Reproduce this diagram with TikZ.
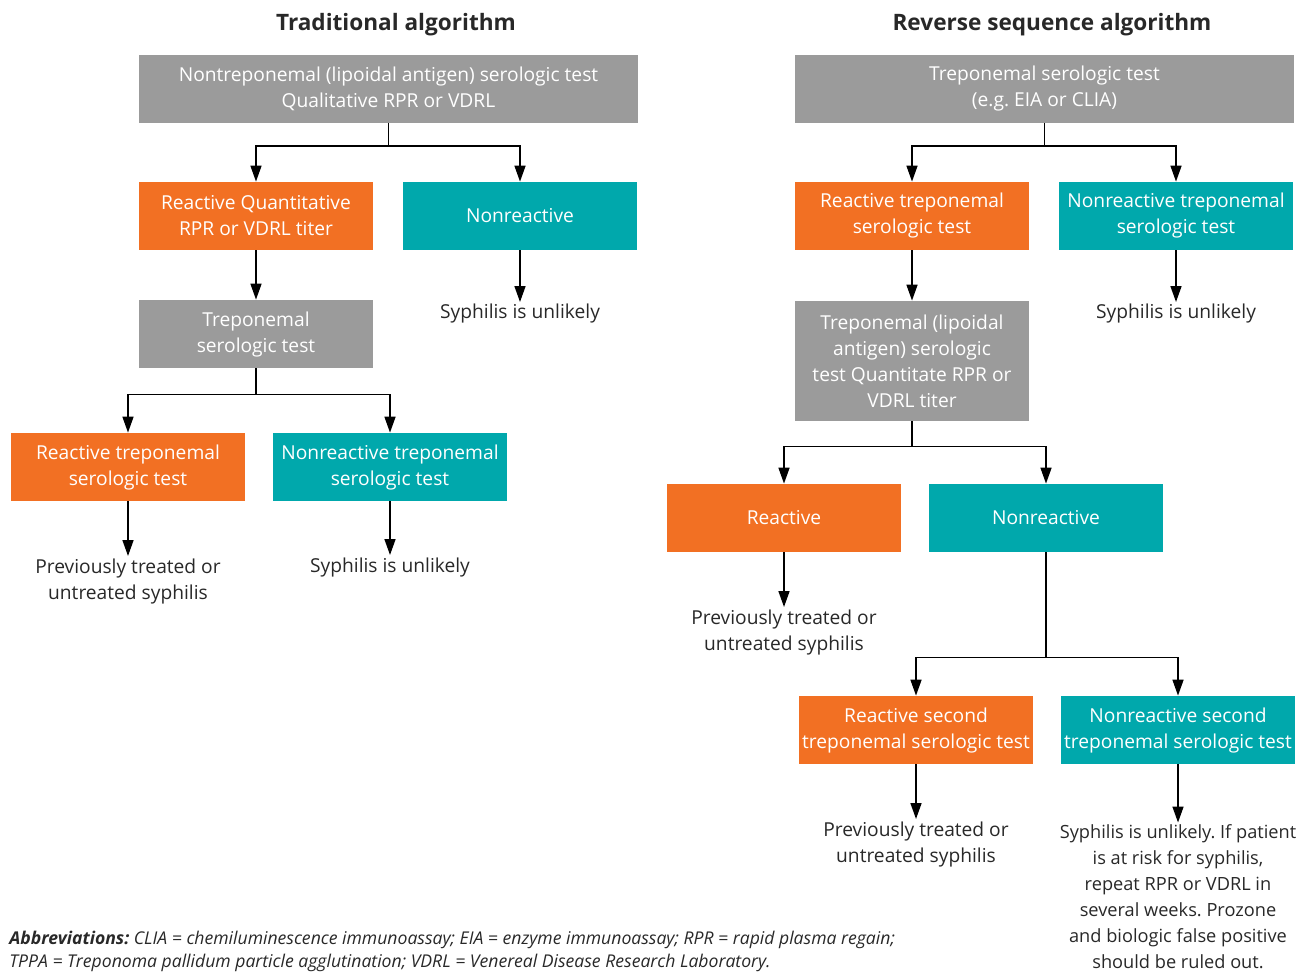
\documentclass[tikz,border=0pt]{standalone}
\usepackage{fontspec}
\setmainfont{Open Sans}
\usetikzlibrary{arrows.meta}
\definecolor{boxgray}{RGB}{155,155,155}
\definecolor{boxorange}{RGB}{242,112,35}
\definecolor{boxteal}{RGB}{0,168,172}
\definecolor{txtdark}{RGB}{40,40,40}
\frenchspacing

\begin{document}
\begin{tikzpicture}[x=0.5pt, y=-0.5pt, font=\fontsize{9.6}{13}\selectfont,
                    box/.style = {minimum width=117pt, minimum height=34pt,
                                  align=center, text=white, inner xsep=0.5pt, inner ysep=2pt},
                    graybox/.style = {box, fill=boxgray},
                    orangebox/.style = {box, fill=boxorange},
                    tealbox/.style = {box, fill=boxteal},
                    wide/.style = {minimum width=249.5pt},
                    result/.style = {align=center, text=txtdark, inner sep=1pt},
                    heading/.style = {font=\bfseries\fontsize{11.3}{13}\selectfont, text=txtdark},
                    arr/.style = {-{Triangle[width=5.5pt,length=8pt]}, line width=0.8pt}]
\useasboundingbox (0,0) rectangle (1306,971);
% headings
\node[heading] (htrad) at (396,25) {Traditional algorithm};
\node[heading] (hrev)  at (1052,25) {Reverse sequence algorithm};
% traditional algorithm
\node[graybox, wide] (trad) at (388.5,88.5) {Nontreponemal (lipoidal antigen) serologic test\\Qualitative RPR or VDRL};
\node[orangebox] (rqt) at (256,216) {Reactive Quantitative\\RPR or VDRL titer};
\node[tealbox] (nr1) at (520,216) {Nonreactive};
\node[graybox] (tst) at (256,334) {Treponemal\\serologic test};
\node[result] (unl1) at (520,314) {Syphilis is unlikely};
\node[orangebox] (rtt) at (128,467) {Reactive treponemal\\serologic test};
\node[tealbox] (ntt) at (390,467) {Nonreactive treponemal\\serologic test};
\node[result] (prev1) at (128,581) {Previously treated or\\untreated syphilis};
\node[result] (unl2) at (390,567) {Syphilis is unlikely};
% reverse sequence algorithm
\node[graybox, wide] (rev) at (1044.5,88.5) {Treponemal serologic test\\(e.g. EIA or CLIA)};
\node[orangebox] (rtr) at (912,216) {Reactive treponemal\\serologic test};
\node[tealbox] (ntr) at (1176,216) {Nonreactive treponemal\\serologic test};
\node[graybox, minimum height=60pt] (ntq) at (912,361) {Treponemal (lipoidal\\antigen) serologic\\test Quantitate RPR or\\VDRL titer};
\node[result] (unl3) at (1176,314) {Syphilis is unlikely};
\node[orangebox] (rea) at (784,518) {Reactive};
\node[tealbox] (nre) at (1046,518) {Nonreactive};
\node[result] (prev2) at (784,632) {Previously treated or\\untreated syphilis};
\node[orangebox] (rsec) at (916,730) {Reactive second\\treponemal serologic test};
\node[tealbox] (nsec) at (1178,730) {Nonreactive second\\treponemal serologic test};
\node[result] (prev3) at (916,844) {Previously treated or\\untreated syphilis};
\node[result, font=\fontsize{9.1}{13}\selectfont] (unl4) at (1178,897) {Syphilis is unlikely. If patient\\is at risk for syphilis,\\repeat RPR or VDRL in\\several weeks. Prozone\\and biologic false positive\\should be ruled out.};
% footer
\node[anchor=west, align=left, text=txtdark, inner sep=0pt,
      font=\itshape\fontsize{8.8}{11.5}\selectfont] (abbr) at (9,951)
  {\textbf{Abbreviations:} CLIA = chemiluminescence immunoassay; EIA = enzyme immunoassay; RPR = rapid plasma regain;\\
   TPPA = Treponoma pallidum particle agglutination; VDRL = Venereal Disease Research Laboratory.};
% connectors
\draw[arr] (trad.south) -- ++(0,23) -| (rqt.north);
\draw[arr] (trad.south) -- ++(0,23) -| (nr1.north);
\draw[arr] (rqt) -- (tst);
\draw[arr] (nr1) -- (unl1);
\draw[arr] (tst.south) -- ++(0,26) -| (rtt.north);
\draw[arr] (tst.south) -- ++(0,26) -| (ntt.north);
\draw[arr] (rtt) -- (prev1);
\draw[arr] (ntt) -- (unl2);
\draw[arr] (rev.south) -- ++(0,23) -| (rtr.north);
\draw[arr] (rev.south) -- ++(0,23) -| (ntr.north);
\draw[arr] (rtr) -- (ntq);
\draw[arr] (ntr) -- (unl3);
\draw[arr] (ntq.south) -- ++(0,25) -| (rea.north);
\draw[arr] (ntq.south) -- ++(0,25) -| (nre.north);
\draw[arr] (rea) -- (prev2);
\draw[arr] (nre.south) -- ++(0,105) -| (rsec.north);
\draw[arr] (nre.south) -- ++(0,105) -| (nsec.north);
\draw[arr] (rsec) -- (prev3);
\draw[arr] (nsec) -- (unl4);
\end{tikzpicture}
\end{document}
